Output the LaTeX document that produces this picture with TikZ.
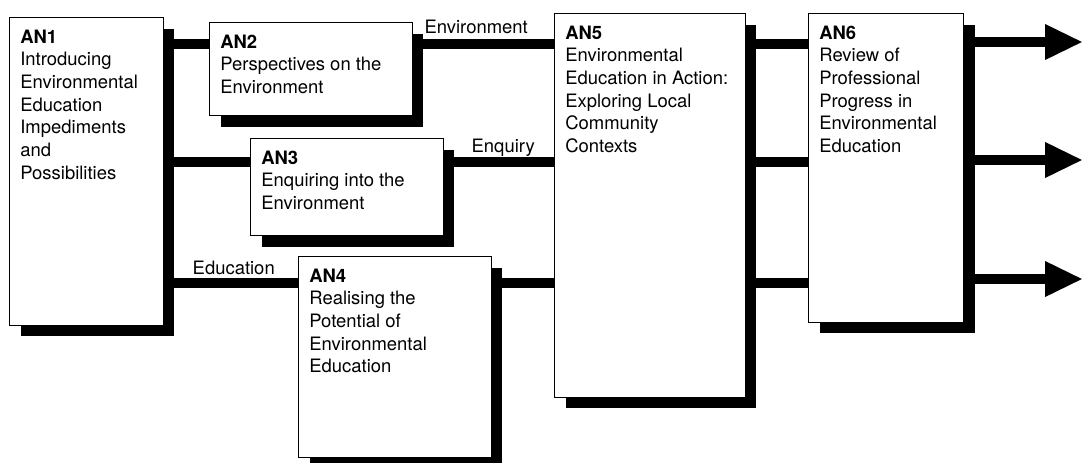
\documentclass[tikz,border=0pt]{standalone}
\usepackage{fontspec}
\setmainfont{TeX Gyre Heros}
\usetikzlibrary{arrows.meta,shadows}

\begin{document}
\begin{tikzpicture}[x=0.02cm, y=-0.02cm,
    unit/.style={draw, line width=0.6pt, fill=white, anchor=north west, inner sep=0pt,
        general shadow={fill=black, shadow xshift=0.22cm, shadow yshift=-0.22cm}},
    unittext/.style={anchor=north west, align=left, inner sep=0pt, xshift=0.22cm, yshift=-0.25cm,
        font=\fontsize{10.5}{12.9}\selectfont},
    flow/.style={line width=0.21cm},
    outflow/.style={flow, -{Triangle[length=0.76cm, width=0.66cm]}},
    flowlabel/.style={anchor=base east, inner sep=0pt, font=\fontsize{10.5}{12.9}\selectfont}]
    \useasboundingbox (0,0) rectangle (1085,463);

    % Units
    \node[unit, minimum width=3.08cm, minimum height=6.16cm,
        label={[unittext]north west:{\textbf{AN1}\\Introducing\\Environmental\\Education\\Impediments\\and\\Possibilities}}] (an1) at (9,17) {};
    \node[unit, minimum width=4.06cm, minimum height=1.86cm,
        label={[unittext]north west:{\textbf{AN2}\\Perspectives on the\\Environment}}] (an2) at (209,22) {};
    \node[unit, minimum width=3.86cm, minimum height=1.94cm,
        label={[unittext]north west:{\textbf{AN3}\\Enquiring into the\\Environment}}] (an3) at (250,138) {};
    \node[unit, minimum width=3.86cm, minimum height=4.02cm,
        label={[unittext]north west:{\textbf{AN4}\\Realising the\\Potential of\\Environmental\\Education}}] (an4) at (298,256) {};
    \node[unit, minimum width=3.82cm, minimum height=7.68cm,
        label={[unittext]north west:{\textbf{AN5}\\Environmental\\Education in Action:\\Exploring Local\\Community\\Contexts}}] (an5) at (554,13) {};
    \node[unit, minimum width=3.10cm, minimum height=6.18cm,
        label={[unittext]north west:{\textbf{AN6}\\Review of\\Professional\\Progress in\\Environmental\\Education}}] (an6) at (808,13) {};

    % Levels of the three strands
    \coordinate (row1) at (0,44);
    \coordinate (row2) at (0,162);
    \coordinate (row3) at (0,283);
    \coordinate (end1) at (1083,42);
    \coordinate (end2) at (1083,160);
    \coordinate (end3) at (1083,279);

    % Environment strand
    \draw[flow] (an1.east |- row1) -- (an2.west |- row1);
    \draw[flow] (an2.east |- row1) -- (an5.west |- row1)
        node[flowlabel, pos=1, xshift=-0.42cm, yshift=0.22cm] (envlabel) {Environment};
    \draw[flow] (an5.east |- row1) -- (an6.west |- row1);
    \draw[outflow] (an6.east |- end1) -- (end1);

    % Enquiry strand
    \draw[flow] (an1.east |- row2) -- (an3.west |- row2);
    \draw[flow] (an3.east |- row2) -- (an5.west |- row2)
        node[flowlabel, pos=1, xshift=-0.28cm, yshift=0.20cm] (enqlabel) {Enquiry};
    \draw[flow] (an5.east |- row2) -- (an6.west |- row2);
    \draw[outflow] (an6.east |- end2) -- (end2);

    % Education strand
    \draw[flow] (an1.east |- row3) -- (an4.west |- row3)
        node[flowlabel, pos=1, xshift=-0.36cm, yshift=0.18cm] (edulabel) {Education};
    \draw[flow] (an4.east |- row3) -- (an5.west |- row3);
    \draw[flow] (an5.east |- row3) -- (an6.west |- row3);
    \draw[outflow] (an6.east |- end3) -- (end3);
\end{tikzpicture}
\end{document}
